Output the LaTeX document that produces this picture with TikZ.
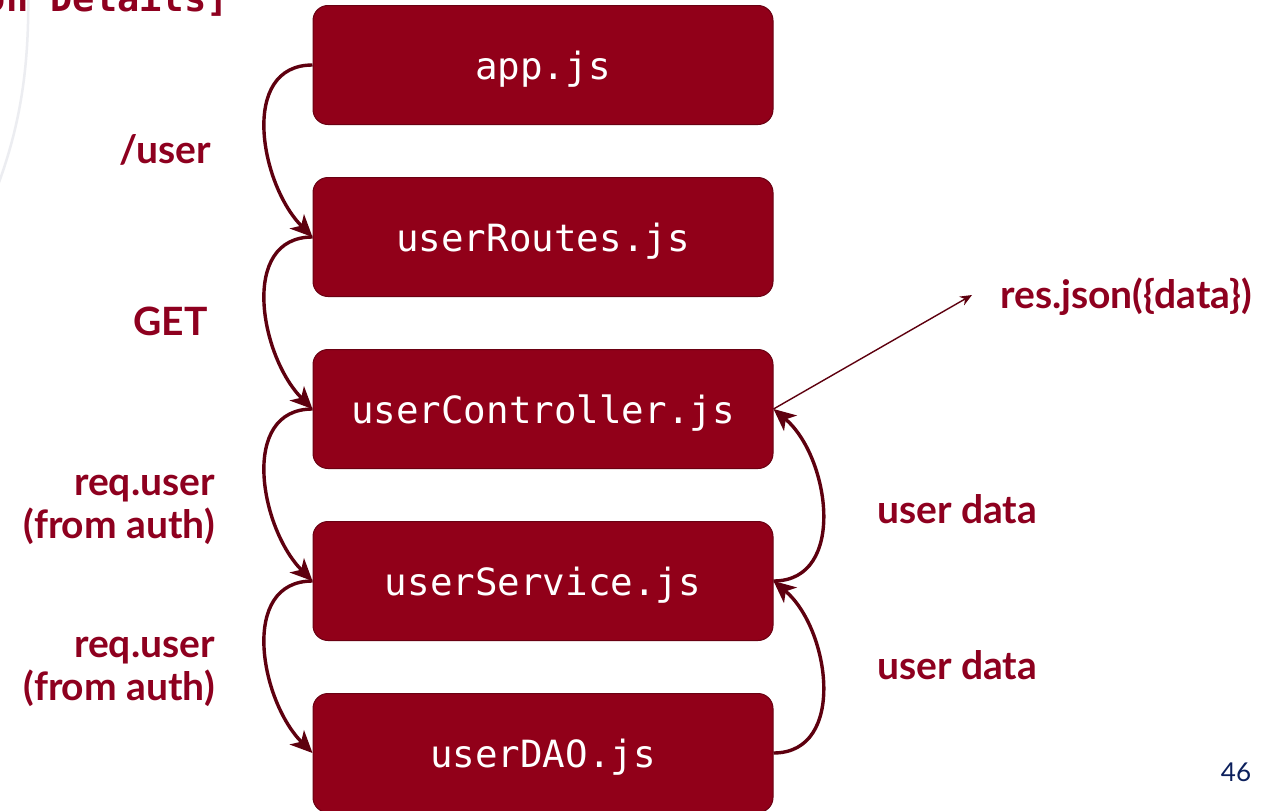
\documentclass[tikz,border=0pt]{standalone}
\usepackage{fontspec}
\setmainfont{Lato}
\newfontfamily\boxfont{DejaVu Sans Mono}
\newfontfamily\labfont{Lato}
\usetikzlibrary{arrows.meta}
\definecolor{boxred}{HTML}{910019}
\definecolor{boxedge}{HTML}{6A0012}
\definecolor{arcred}{HTML}{5E000F}
\definecolor{labred}{HTML}{8E001F}
\definecolor{navy}{HTML}{0B1F5C}
\definecolor{faint}{HTML}{ECEDF1}
\tikzset{
  filebox/.style={draw=boxedge, line width=1pt, fill=boxred, rounded corners=15pt,
    minimum width=460pt, minimum height=119pt, inner sep=0pt},
  boxtext/.style={anchor=center, text=white, font=\boxfont\fontsize{37.5}{40}\selectfont, inner sep=0pt},
  flow/.style={draw=arcred, line width=3.4pt, -{Stealth[length=22pt,width=20pt,inset=6pt]}},
  thinflow/.style={draw=arcred, line width=1.4pt, -{Stealth[length=12pt,width=10pt]}},
  lab/.style={text=labred, font=\labfont\bfseries\fontsize{39}{44}\selectfont, inner sep=0pt},
}
\begin{document}
\begin{tikzpicture}[x=1pt,y=-1pt]
\useasboundingbox[fill=white] (0,0) rectangle (1283,811);
% faint background arc
\draw[faint, line width=2.5pt] (28,-20) .. controls (30,60) and (22,120) .. (-2,185);
% partial title
\node[anchor=base east, inner sep=0pt, text=labred, font=\boxfont\bfseries\fontsize{37}{40}\selectfont] (title) at (229,11) {on Details]};
% boxes
\node[filebox] (app) at (543,65) {};
\node[filebox] (routes) at (543,237) {};
\node[filebox] (ctrl) at (543,409) {};
\node[filebox] (svc) at (543,581) {};
\node[filebox] (dao) at (543,753) {};
\node[boxtext] (t1) at ([yshift=-4pt]app.center) {app.js};
\node[boxtext] (t2) at ([yshift=-4pt]routes.center) {userRoutes.js};
\node[boxtext] (t3) at ([yshift=-4pt]ctrl.center) {userController.js};
\node[boxtext] (t4) at ([yshift=-4pt]svc.center) {userService.js};
\node[boxtext] (t5) at ([yshift=-4pt]dao.center) {userDAO.js};
% left arcs
\draw[flow] (app.west) to[out=180,in=135,looseness=1.1] (routes.west);
\draw[flow] (routes.west) to[out=180,in=135,looseness=1.1] (ctrl.west);
\draw[flow] (ctrl.west) to[out=180,in=135,looseness=1.1] (svc.west);
\draw[flow] (svc.west) to[out=180,in=135,looseness=1.1] (dao.west);
% right arcs
\draw[flow] (dao.east) to[out=0,in=-40,looseness=1.1] (svc.east);
\draw[flow] (svc.east) to[out=0,in=-40,looseness=1.1] (ctrl.east);
% response arrow
\coordinate (resend) at (972,295);
\draw[thinflow] (ctrl.east) -- (resend);
% labels
\node[lab, anchor=base east] (l1) at (211,163) {/user};
\node[lab, anchor=base east] (l2) at (208,335) {GET};
\node[lab, anchor=base east] (l3) at (215,495) {req.user};
\node[lab, anchor=base east] (l3b) at (215,538) {(from auth)};
\node[lab, anchor=base east] (l4) at (215,657) {req.user};
\node[lab, anchor=base east] (l4b) at (215,700) {(from auth)};
\node[lab, anchor=base west] (r1) at (877,523) {user data};
\node[lab, anchor=base west] (r2) at (877,679) {user data};
\node[lab, anchor=base west] (res) at (1000,308) {res.json(\{data\})};
\node[anchor=base, inner sep=0pt, text=navy, font=\labfont\fontsize{26}{30}\selectfont] (pg) at (1236,781) {46};
\end{tikzpicture}
\end{document}
